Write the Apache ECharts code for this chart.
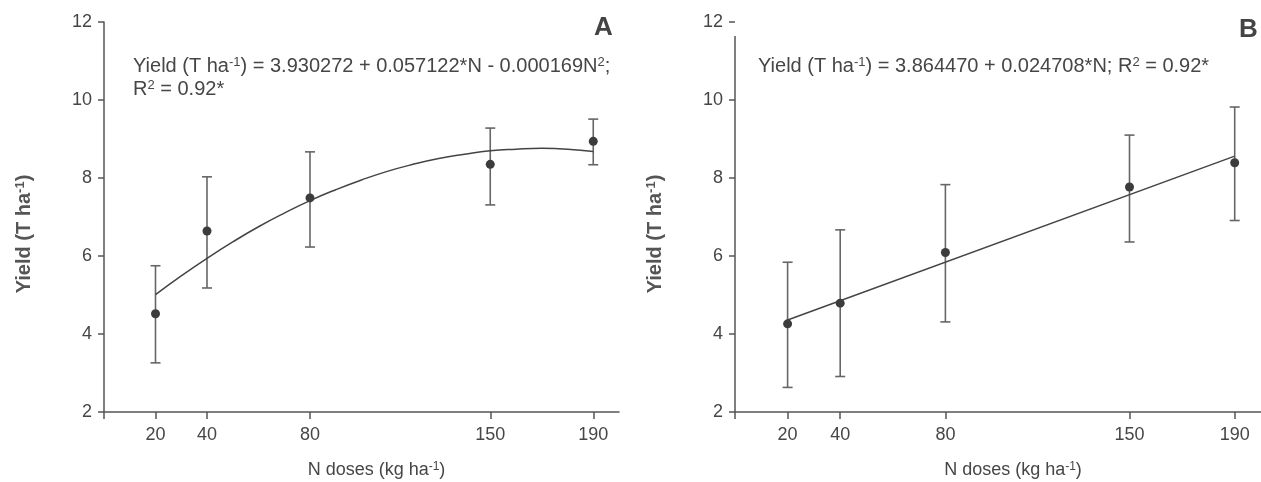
<!doctype html>
<html lang="en-US">

<head>
    <meta charset="utf-8" />
    <title>Yield vs N doses</title>
    <script type="text/javascript" src="https://cdn.jsdelivr.net/npm/echarts@6/dist/echarts.min.js"></script>
    <style>
        html, body { margin: 0; padding: 0; background: #fff; }
        #chart { width: 1261px; height: 482px; }
    </style>
</head>

<body>
    <div id="chart"></div>
</body>

<script type="text/javascript">
    // N doses (kg/ha) and yield means with error bar limits
    let doses = [20, 40, 80, 150, 190];

    let yieldA = [4.52, 6.64, 7.49, 8.35, 8.94];
    let lowA = [3.26, 5.18, 6.23, 7.31, 8.34];
    let highA = [5.75, 8.03, 8.67, 9.28, 9.51];

    let yieldB = [4.26, 4.79, 6.09, 7.77, 8.39];
    let lowB = [2.63, 2.91, 4.31, 6.36, 6.91];
    let highB = [5.84, 6.67, 7.83, 9.10, 9.82];

    // fitted curves as drawn
    let fitDosesA = [20, 30, 40, 50, 60, 70, 80, 90, 100, 110, 120, 130, 140, 150, 160, 170, 180, 190];
    let fitA = [5.01, 5.49, 5.94, 6.36, 6.75, 7.10, 7.42, 7.70, 7.95, 8.17, 8.35, 8.50, 8.61, 8.70, 8.74, 8.76, 8.74, 8.68];
    let fitDosesB = [20, 190];
    let fitB = [4.36, 8.56];

    let xTickValues = [0, 20, 40, 80, 150, 190];
    let xLabelValues = [20, 40, 80, 150, 190];

    let font = "'Liberation Sans', Arial, sans-serif";
    let textColor = '#464646';
    let axisColor = '#555';

    let zip = function (xs, ys) {
        let out = [];
        for (let i = 0; i < xs.length; i++) {
            out.push([xs[i], ys[i]]);
        }
        return out;
    };

    let errorData = function (lo, hi) {
        let out = [];
        for (let i = 0; i < doses.length; i++) {
            out.push([doses[i], lo[i], hi[i]]);
        }
        return out;
    };

    let renderErrorBar = function (params, api) {
        let x = api.value(0);
        let lo = api.coord([x, api.value(1)]);
        let hi = api.coord([x, api.value(2)]);
        let cap = 5;
        let style = { stroke: '#666', lineWidth: 1.6 };

        return {
            type: 'group',
            children: [
                { type: 'line', shape: { x1: lo[0], y1: lo[1], x2: hi[0], y2: hi[1] }, style: style },
                { type: 'line', shape: { x1: hi[0] - cap, y1: hi[1], x2: hi[0] + cap, y2: hi[1] }, style: style },
                { type: 'line', shape: { x1: lo[0] - cap, y1: lo[1], x2: lo[0] + cap, y2: lo[1] }, style: style }
            ]
        };
    };

    let supRich = {
        sup: { fontSize: 12, verticalAlign: 'top', lineHeight: 12, fontFamily: font, color: textColor }
    };

    let makeXAxis = function (gridIndex) {
        return {
            type: 'value',
            gridIndex: gridIndex,
            min: 0,
            max: 200,
            name: 'N doses (kg ha{sup|-1})',
            nameLocation: 'middle',
            nameGap: 49,
            nameTextStyle: {
                fontSize: 18, color: textColor, fontFamily: font,
                padding: [0, 0, 0, 30],
                rich: supRich
            },
            splitLine: { show: false },
            axisLine: { lineStyle: { color: axisColor, width: 1.5 } },
            axisTick: { customValues: xTickValues, length: 7, lineStyle: { color: axisColor, width: 1.5 } },
            axisLabel: { customValues: xLabelValues, fontSize: 18, color: textColor, fontFamily: font, margin: 14 }
        };
    };

    let makeYAxis = function (gridIndex, showLine) {
        return {
            type: 'value',
            gridIndex: gridIndex,
            min: 2,
            max: 12,
            interval: 2,
            name: 'Yield (T ha{sup|-1})',
            nameLocation: 'middle',
            nameGap: 70,
            nameTextStyle: {
                fontSize: 20, fontWeight: 'bold', color: '#555', fontFamily: font,
                padding: [0, 34, 0, 0],
                rich: { sup: { fontSize: 13, fontWeight: 'bold', verticalAlign: 'top', lineHeight: 13, fontFamily: font, color: '#555' } }
            },
            splitLine: { show: false },
            axisLine: { show: showLine, lineStyle: { color: axisColor, width: 1.5 } },
            axisTick: { length: 6, lineStyle: { color: axisColor, width: 1.5 } },
            axisLabel: { fontSize: 18, color: textColor, fontFamily: font, margin: 12 }
        };
    };

    let eqStyle = function (text, x, y) {
        return {
            type: 'text',
            left: x,
            top: y,
            style: {
                text: text,
                fontSize: 20,
                fontFamily: font,
                fill: textColor,
                rich: {
                    sup: { fontSize: 13, verticalAlign: 'top', lineHeight: 13, fontFamily: font, fill: textColor }
                }
            }
        };
    };

    let option = {
        animation: false,
        grid: [
            { left: 104, right: 642, top: 22, bottom: 70, outerBoundsMode: 'none' },
            { left: 735, right: 0, top: 22, bottom: 70, outerBoundsMode: 'none' }
        ],
        xAxis: [makeXAxis(0), makeXAxis(1)],
        yAxis: [makeYAxis(0, true), makeYAxis(1, false)],
        series: [
            {
                type: 'custom', xAxisIndex: 0, yAxisIndex: 0,
                renderItem: renderErrorBar, data: errorData(lowA, highA), z: 2
            },
            {
                type: 'line', xAxisIndex: 0, yAxisIndex: 0, smooth: true, showSymbol: false,
                lineStyle: { color: '#444', width: 1.5 }, data: zip(fitDosesA, fitA), z: 3
            },
            {
                type: 'scatter', xAxisIndex: 0, yAxisIndex: 0, symbolSize: 9,
                itemStyle: { color: '#3c3c3c', opacity: 1 }, data: zip(doses, yieldA), z: 4
            },
            {
                type: 'custom', xAxisIndex: 1, yAxisIndex: 1,
                renderItem: renderErrorBar, data: errorData(lowB, highB), z: 2
            },
            {
                type: 'line', xAxisIndex: 1, yAxisIndex: 1, showSymbol: false,
                lineStyle: { color: '#444', width: 1.5 }, data: zip(fitDosesB, fitB), z: 3,
                // panel B y axis line stops short of the 12 tick
                markLine: {
                    silent: true,
                    symbol: 'none',
                    label: { show: false },
                    lineStyle: { color: axisColor, width: 1.5, type: 'solid' },
                    data: [[{ coord: [0, 2] }, { coord: [0, 11.64] }]]
                }
            },
            {
                type: 'scatter', xAxisIndex: 1, yAxisIndex: 1, symbolSize: 9,
                itemStyle: { color: '#3c3c3c', opacity: 1 }, data: zip(doses, yieldB), z: 4
            }
        ],
        graphic: [
            eqStyle('Yield (T ha{sup|-1}) = 3.930272 + 0.057122*N - 0.000169N{sup|2};', 133, 56),
            eqStyle('R{sup|2} = 0.92*', 133, 79),
            eqStyle('Yield (T ha{sup|-1}) = 3.864470 + 0.024708*N; R{sup|2} = 0.92*', 758, 56),
            {
                type: 'text', left: 594, top: 15,
                style: { text: 'A', fontSize: 26, fontWeight: 'bold', fontFamily: font, fill: '#444' }
            },
            {
                type: 'text', left: 1239, top: 17,
                style: { text: 'B', fontSize: 26, fontWeight: 'bold', fontFamily: font, fill: '#444' }
            }
        ]
    };

    var chartDom = document.getElementById('chart');
    var myChart = window.echarts.init(chartDom);

    myChart.setOption(option);
</script>

</html>
